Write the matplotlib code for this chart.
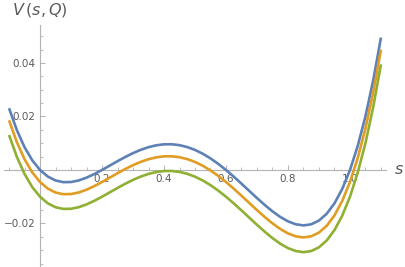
import matplotlib
matplotlib.use("Agg")
import matplotlib.pyplot as plt
from matplotlib.ticker import FixedLocator, MultipleLocator

s_values = [-0.100, -0.075, -0.050, -0.025, 0.000, 0.025, 0.050, 0.075, 0.100, 0.125,
            0.150, 0.175, 0.200, 0.225, 0.250, 0.275, 0.300, 0.325, 0.350, 0.375,
            0.400, 0.425, 0.450, 0.475, 0.500, 0.525, 0.550, 0.575, 0.600, 0.625,
            0.650, 0.675, 0.700, 0.725, 0.750, 0.775, 0.800, 0.825, 0.850, 0.875,
            0.900, 0.925, 0.950, 0.975, 1.000, 1.025, 1.050, 1.075, 1.100]

v_blue = [0.02310, 0.01497, 0.00853, 0.00360, 0.00000, -0.00245, -0.00392, -0.00455, -0.00450, -0.00390,
          -0.00287, -0.00153, 0.00000, 0.00164, 0.00328, 0.00486, 0.00630, 0.00754, 0.00853, 0.00923,
          0.00960, 0.00962, 0.00928, 0.00857, 0.00750, 0.00608, 0.00433, 0.00229, 0.00000, -0.00249,
          -0.00512, -0.00782, -0.01050, -0.01308, -0.01547, -0.01755, -0.01920, -0.02030, -0.02072, -0.02030,
          -0.01890, -0.01635, -0.01247, -0.00708, 0.00000, 0.00899, 0.02008, 0.03351, 0.04950]

v_orange = [0.01860, 0.01047, 0.00403, -0.00090, -0.00450, -0.00695, -0.00842, -0.00905, -0.00900, -0.00840,
            -0.00737, -0.00603, -0.00450, -0.00286, -0.00122, 0.00036, 0.00180, 0.00304, 0.00403, 0.00473,
            0.00510, 0.00512, 0.00478, 0.00407, 0.00300, 0.00158, -0.00017, -0.00221, -0.00450, -0.00699,
            -0.00962, -0.01232, -0.01500, -0.01758, -0.01997, -0.02205, -0.02370, -0.02480, -0.02522, -0.02480,
            -0.02340, -0.02085, -0.01697, -0.01158, -0.00450, 0.00449, 0.01558, 0.02901, 0.04500]

v_green = [0.01310, 0.00497, -0.00147, -0.00640, -0.01000, -0.01245, -0.01392, -0.01455, -0.01450, -0.01390,
           -0.01287, -0.01153, -0.01000, -0.00836, -0.00672, -0.00514, -0.00370, -0.00246, -0.00147, -0.00077,
           -0.00040, -0.00038, -0.00072, -0.00143, -0.00250, -0.00392, -0.00567, -0.00771, -0.01000, -0.01249,
           -0.01512, -0.01782, -0.02050, -0.02308, -0.02547, -0.02755, -0.02920, -0.03030, -0.03072, -0.03030,
           -0.02890, -0.02635, -0.02247, -0.01708, -0.01000, -0.00101, 0.01008, 0.02351, 0.03950]

x_major = [0.2, 0.4, 0.6, 0.8, 1.0]
x_labels = ["0.2", "0.4", "0.6", "0.8", "1.0"]
y_major = [-0.02, 0.02, 0.04]
y_labels = ["\u22120.02", "0.02", "0.04"]

colors = ["#5E81B5", "#E19C24", "#8FB032"]

fig = plt.figure(figsize=(4.06, 2.67), dpi=100)
ax = fig.add_axes([0.0108, 0.0007, 0.939, 0.9056])

for v, c in zip([v_blue, v_orange, v_green], colors):
    ax.plot(s_values, v, color=c, lw=1.9, solid_capstyle="butt",
            solid_joinstyle="round", zorder=3)

ax.set_xlim(-0.115, 1.115)
ax.set_ylim(-0.0362, 0.0542)

axis_color = "#b3b3b3"
for side in ["top", "right"]:
    ax.spines[side].set_visible(False)
ax.spines["left"].set_position(("data", 0))
ax.spines["bottom"].set_position(("data", 0))
for side in ["left", "bottom"]:
    ax.spines[side].set_color(axis_color)
    ax.spines[side].set_linewidth(0.8)

ax.xaxis.set_major_locator(FixedLocator(x_major))
ax.set_xticklabels(x_labels)
ax.yaxis.set_major_locator(FixedLocator(y_major))
ax.set_yticklabels(y_labels)
ax.xaxis.set_minor_locator(MultipleLocator(0.05))
ax.yaxis.set_minor_locator(MultipleLocator(0.005))

ax.tick_params(axis="both", which="major", direction="in", length=3.5, width=0.7,
               color=axis_color, labelsize=7.5, labelcolor="#5a5a5a", pad=3)
ax.tick_params(axis="both", which="minor", direction="in", length=2, width=0.6,
               color=axis_color)
ax.patch.set_alpha(0)

fig.text(12 / 406, 1 - 10 / 267, "$V\\,(s,Q)$", fontsize=11.5, color="#5a5a5a",
         ha="left", va="center", math_fontfamily="dejavusans")
fig.text(399 / 406, 1 - 169 / 267, "$s$", fontsize=11.5, color="#5a5a5a",
         ha="center", va="center", math_fontfamily="dejavusans")

fig.savefig("out.png", dpi=100)
